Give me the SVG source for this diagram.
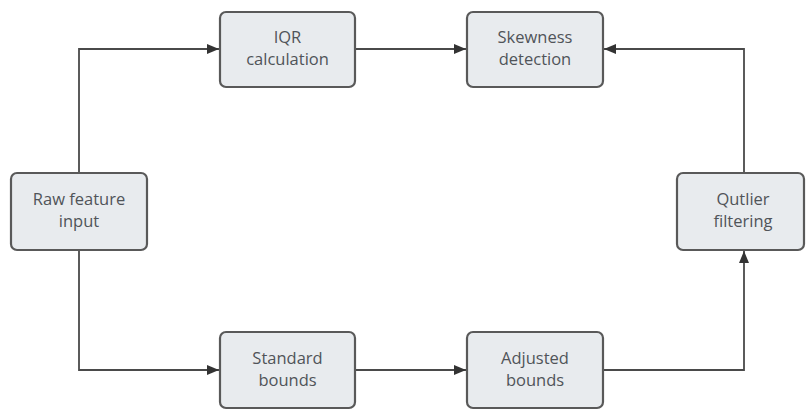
<svg xmlns="http://www.w3.org/2000/svg" width="806" height="410" viewBox="0 0 806 410">
  <style>
    .node rect { fill: #e8ebee; stroke: #595959; stroke-width: 2.2; }
    .node text { font-family: "Open Sans", "Noto Sans", "DejaVu Sans", sans-serif; font-size: 16.5px; fill: #505459; text-anchor: middle; }
    .edge { fill: none; stroke: #4a4a4a; stroke-width: 1.8; }
  </style>
  <defs>
    <marker id="arrow" viewBox="0 0 12 10" refX="12" refY="5" markerWidth="12" markerHeight="10" markerUnits="userSpaceOnUse" orient="auto">
      <path d="M0,0 L12,5 L0,10 Z" fill="#333"/>
    </marker>
  </defs>
  <rect width="806" height="410" fill="#ffffff"/>

  <g id="connectors">
    <path class="edge" d="M79,173 V49 H219" marker-end="url(#arrow)"/>
    <path class="edge" d="M79,250 V370 H219" marker-end="url(#arrow)"/>
    <path class="edge" d="M355,49 H466" marker-end="url(#arrow)"/>
    <path class="edge" d="M355,370 H466" marker-end="url(#arrow)"/>
    <path class="edge" d="M603,370 H744 V251" marker-end="url(#arrow)"/>
    <path class="edge" d="M744,173 V49 H604" marker-end="url(#arrow)"/>
  </g>

  <g id="raw-feature-input" class="node">
    <rect x="11" y="173" width="136" height="77" rx="6"/>
    <text x="79" y="205">Raw feature</text>
    <text x="79" y="227">input</text>
  </g>
  <g id="iqr-calculation" class="node">
    <rect x="220" y="12" width="135" height="75" rx="6"/>
    <text x="287.5" y="43">IQR</text>
    <text x="287.5" y="65">calculation</text>
  </g>
  <g id="skewness-detection" class="node">
    <rect x="467" y="12" width="136" height="75" rx="6"/>
    <text x="535" y="43">Skewness</text>
    <text x="535" y="65">detection</text>
  </g>
  <g id="outlier-filtering" class="node">
    <rect x="677" y="173" width="127" height="77" rx="6"/>
    <text x="743" y="205">Qutlier</text>
    <text x="743" y="227">filtering</text>
  </g>
  <g id="standard-bounds" class="node">
    <rect x="220" y="332" width="135" height="76" rx="6"/>
    <text x="287.5" y="364">Standard</text>
    <text x="287.5" y="386">bounds</text>
  </g>
  <g id="adjusted-bounds" class="node">
    <rect x="467" y="332" width="136" height="76" rx="6"/>
    <text x="535" y="364">Adjusted</text>
    <text x="535" y="386">bounds</text>
  </g>
</svg>
